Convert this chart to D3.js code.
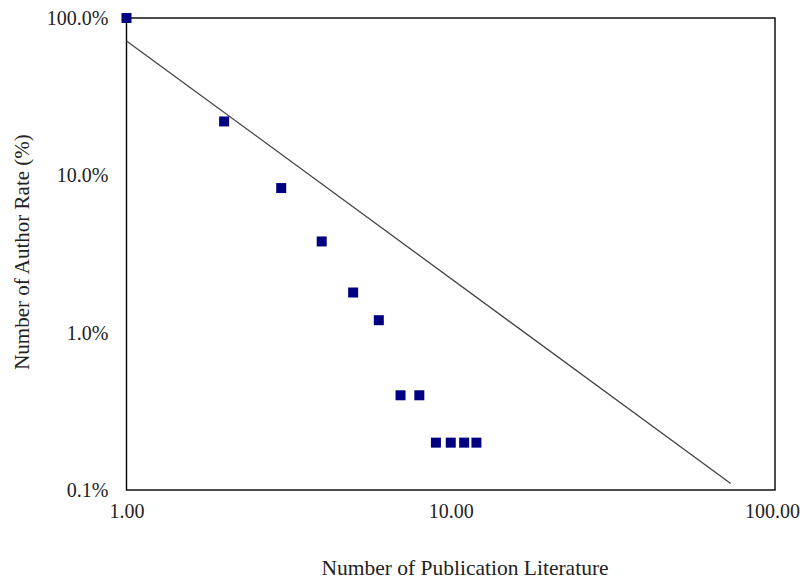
<!DOCTYPE html>
<html lang="en">
<head>
<meta charset="utf-8">
<title>Author rate</title>
<script src="https://d3js.org/d3.v7.min.js"></script>
<style>
body { margin: 0; background: #fff; }
svg text { font-family: "Liberation Serif", "Times New Roman", serif; fill: #222; }
</style>
</head>
<body>
<div id="chart"></div>
<script>
// number of papers per author, and the share of authors with that many
var papers = [1, 2, 3, 4, 5, 6, 7, 8, 9, 10, 11, 12];
var authorRate = [100, 22, 8.3, 3.8, 1.8, 1.2, 0.4, 0.4, 0.2, 0.2, 0.2, 0.2];

// fitted line, its two end points
var fitX = [1, 73];
var fitY = [71.5, 0.11];

var xTicks = [1, 10, 100];
var yTicks = [0.1, 1, 10, 100];

var w = 802, h = 580;
var m = {left: 126.5, right: 27, top: 18, bottom: 90};

var svg = d3.select("#chart").append("svg")
  .attr("width", w)
  .attr("height", h);

var x = d3.scaleLog().domain([1, 100]).range([m.left, w - m.right]);
var y = d3.scaleLog().domain([0.1, 100]).range([h - m.bottom, m.top]);

// frame
svg.append("rect")
  .attr("x", x(1)).attr("y", y(100))
  .attr("width", x(100) - x(1)).attr("height", y(0.1) - y(100))
  .attr("fill", "none").attr("stroke", "#000").attr("stroke-width", 1.4);

// axes, labels only
var xAxis = svg.append("g")
  .attr("transform", "translate(0," + (h - m.bottom) + ")")
  .call(d3.axisBottom(x).tickValues(xTicks).tickFormat(d3.format(".2f")).tickSize(0).tickPadding(14));
xAxis.select(".domain").remove();
xAxis.selectAll("text").style("font-size", "20px").attr("font-family", null);
// keep the last label inside the page
xAxis.selectAll("text").each(function() {
  var b = this.getBBox();
  var tx = +this.parentNode.getAttribute("transform").match(/translate\(([-\d.]+)/)[1];
  var over = tx + b.x + b.width - (w - 2);
  if (over > 0) d3.select(this).attr("x", -over);
});

var yAxis = svg.append("g")
  .attr("transform", "translate(" + m.left + ",0)")
  .call(d3.axisLeft(y).tickValues(yTicks).tickFormat(function(d) { return d.toFixed(1) + "%"; }).tickSize(0).tickPadding(18));
yAxis.select(".domain").remove();
yAxis.selectAll("text").style("font-size", "20px").attr("font-family", null);

// fit line
var line = d3.line().x(function(d) { return x(d[0]); }).y(function(d) { return y(d[1]); });
svg.append("path")
  .datum(d3.zip(fitX, fitY))
  .attr("d", line)
  .attr("fill", "none")
  .attr("stroke", "#444")
  .attr("stroke-width", 1.3);

// points
svg.selectAll("rect.pt")
  .data(d3.zip(papers, authorRate))
  .enter().append("rect")
  .attr("class", "pt")
  .attr("x", function(d) { return x(d[0]) - 5; })
  .attr("y", function(d) { return y(d[1]) - 5; })
  .attr("width", 10).attr("height", 10)
  .attr("fill", "#000080");

// titles
svg.append("text")
  .attr("x", 465).attr("y", 575)
  .attr("text-anchor", "middle")
  .style("font-size", "21.5px")
  .text("Number of Publication Literature");

svg.append("text")
  .attr("transform", "translate(29,252) rotate(-90)")
  .attr("text-anchor", "middle")
  .style("font-size", "21px")
  .text("Number of Author Rate (%)");
</script>
</body>
</html>
